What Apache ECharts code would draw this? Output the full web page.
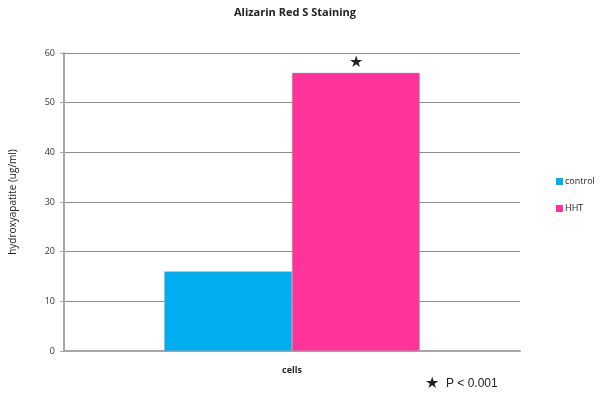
<!DOCTYPE html>
<html>
<head>
<meta charset="utf-8">
<script src="https://cdn.jsdelivr.net/npm/echarts@6/dist/echarts.min.js"></script>
<style>
  html, body { margin: 0; padding: 0; background: #fff; }
  #chart { width: 600px; height: 403px; }
</style>
</head>
<body>
<div id="chart"></div>
<script>
// values
var categories = ['cells'];
var controlValues = [16];
var hhtValues = [56];
var seriesNames = ['control', 'HHT'];
var colorCode = ['#00aeef', '#ff3399'];

var drawCharts = echarts.init(document.getElementById('chart'));
var option = {
  animation: false,
  textStyle: { fontFamily: 'Open Sans, Liberation Sans, sans-serif' },
  color: colorCode,
  title: {
    text: 'Alizarin Red S Staining',
    left: 290,
    textAlign: 'center',
    top: 2,
    textStyle: { fontSize: 11, fontWeight: 'bold', color: '#222' }
  },
  legend: {
    data: seriesNames,
    orient: 'vertical',
    left: 551,
    top: 172,
    itemWidth: 7,
    itemHeight: 7,
    itemGap: 18,
    icon: 'rect',
    itemStyle: { borderWidth: 0 },
    textStyle: { fontSize: 9, color: '#222', padding: [0, 0, 0, -3] }
  },
  grid: { left: 62, right: 80, top: 53, bottom: 52 },
  xAxis: {
    type: 'category',
    data: categories,
    axisLine: { lineStyle: { color: '#a6a6a6', width: 2 } },
    axisTick: { length: 5, lineStyle: { color: '#a6a6a6', width: 2 } },
    axisLabel: { fontSize: 9, fontWeight: 'bold', color: '#222', margin: 15 }
  },
  yAxis: {
    type: 'value',
    min: 0,
    max: 60,
    interval: 10,
    name: 'hydroxyapatite (ug/ml)',
    nameLocation: 'middle',
    nameGap: 46,
    nameTextStyle: { fontSize: 10, color: '#222' },
    axisLine: { show: true, lineStyle: { color: '#a6a6a6', width: 2 } },
    axisTick: { show: true, length: 4, lineStyle: { color: '#a6a6a6' } },
    axisLabel: { fontSize: 9, color: '#333', margin: 9 },
    splitLine: { lineStyle: { color: '#8c8c8c', width: 1 } }
  },
  series: [
    {
      name: seriesNames[0],
      type: 'bar',
      data: controlValues,
      barWidth: '28%',
      barGap: '0%',
      itemStyle: { borderColor: '#9a9a9a', borderWidth: 0.5 }
    },
    {
      name: seriesNames[1],
      type: 'bar',
      data: hhtValues,
      barWidth: '28%',
      barGap: '0%',
      itemStyle: { borderColor: '#9a9a9a', borderWidth: 0.5 },
      label: {
        show: true,
        position: 'top',
        formatter: '★',
        fontSize: 16,
        color: '#222',
        distance: 2
      }
    }
  ],
  graphic: [
    {
      type: 'text',
      left: 425,
      top: 376,
      style: { text: '★', fontSize: 16, fill: '#222' }
    },
    {
      type: 'text',
      left: 446,
      top: 378,
      style: { text: 'P < 0.001', fontSize: 12, fill: '#222', fontFamily: 'Liberation Sans, sans-serif' }
    }
  ]
};
drawCharts.setOption(option);
</script>
</body>
</html>
